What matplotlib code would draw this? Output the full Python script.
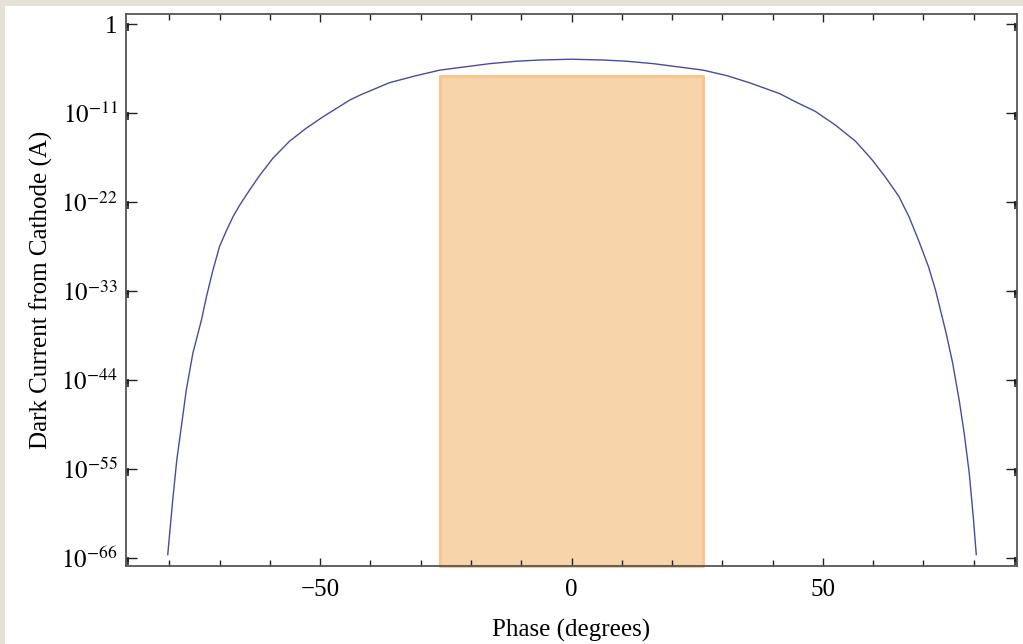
import matplotlib
matplotlib.use("Agg")
import matplotlib.pyplot as plt
from matplotlib.patches import Rectangle
from matplotlib.ticker import FixedLocator
import numpy as np

# curve: phase (deg) and log10 of dark current (A)
phase = [-80.3, -79.3, -78.5, -77.6, -76.6, -75.3, -73.6, -72.6, -71.3, -70.0,
         -68.6, -67.3, -66.0, -64.0, -62.0, -59.4, -56.1, -52.8, -49.5, -44.1,
         -42.1, -36.2, -31.0, -26.2, -16.3, -11.0, -6.4, 0.0,
         6.4, 11.0, 16.3, 26.2, 31.0, 35.4, 41.4, 44.5, 48.5, 52.5,
         56.5, 59.8, 62.4, 65.1, 67.1, 69.0, 71.0, 72.4, 74.5,
         75.8, 77.1, 78.1, 79.1, 79.9, 80.5]
log_current = [-65.6, -58.8, -53.9, -49.8, -45.2, -40.7, -36.6, -33.7, -30.4, -27.5,
               -25.5, -23.8, -22.4, -20.5, -18.7, -16.6, -14.5, -12.9, -11.5, -9.4,
               -8.8, -7.25, -6.4, -5.7, -4.9, -4.6, -4.45, -4.35,
               -4.45, -4.6, -4.9, -5.7, -6.4, -7.26, -8.6, -9.6, -10.8, -12.5,
               -14.5, -16.8, -18.9, -21.3, -23.8, -26.7, -30.0, -32.9, -38.2,
               -41.9, -46.5, -50.6, -55.5, -60.9, -65.6]
current = 10.0 ** np.array(log_current)

# shaded phase window
window_phase = (-26.1, 26.1)
window_top = 10.0 ** -6.45

y_major_exp = [0, -11, -22, -33, -44, -55, -66]
y_major = [10.0 ** e for e in y_major_exp]
y_labels = ["1" if e == 0 else r"$10^{%d}$" % e for e in y_major_exp]
x_major = [-50, 0, 50]
x_labels = ["\u221250", "0", "50"]
x_minor = [-80, -70, -60, -40, -30, -20, -10, 10, 20, 30, 40, 60, 70, 80]

plt.rcParams["mathtext.fontset"] = "stix"
plt.rcParams["font.family"] = ["Liberation Serif", "DejaVu Serif"]

fig = plt.figure(figsize=(10.23, 6.44), dpi=100, facecolor="white")
beige = "#e6e1d7"
fig.add_artist(Rectangle((0, 1 - 6 / 644), 1, 6 / 644, transform=fig.transFigure,
                         facecolor=beige, edgecolor="none"))
fig.add_artist(Rectangle((0, 0), 5 / 1023, 1, transform=fig.transFigure,
                         facecolor=beige, edgecolor="none"))

ax = fig.add_axes([126 / 1023, 1 - 566 / 644, (1017 - 126) / 1023, (566 - 14) / 644])
ax.set_yscale("log")
ylo, yhi = 10.0 ** -67.0, 10.0 ** 1.24
ax.set_xlim(-88.6, 88.6)
ax.set_ylim(ylo, yhi)

ax.add_patch(Rectangle((window_phase[0], ylo), window_phase[1] - window_phase[0],
                       window_top - ylo, facecolor="#f8d4aa", edgecolor="#f8c690",
                       linewidth=2.2, joinstyle="round", clip_on=False, zorder=1))

ax.plot(phase, current, color="#4a4aa0", linewidth=1.0, zorder=3,
        solid_joinstyle="round")

ax.yaxis.set_major_locator(FixedLocator(y_major))
ax.set_yticklabels(y_labels)
y_minor = [k * 10.0 ** (e - 1) for e in y_major_exp for k in range(2, 10)]
ax.yaxis.set_minor_locator(FixedLocator(y_minor))
ax.set_xticks(x_major)
ax.set_xticklabels(x_labels)
ax.set_xticks(x_minor, minor=True)

ax.tick_params(axis="both", which="both", direction="in", top=True, right=True,
               colors="#222222", labelcolor="black")
ax.tick_params(axis="y", which="major", length=8, width=1.0, pad=6, labelsize=18)
ax.tick_params(axis="y", which="minor", length=2.5, width=1.2)
ax.tick_params(axis="x", which="major", length=6, width=1.0, pad=9, labelsize=18)
ax.tick_params(axis="x", which="minor", length=4, width=1.0)

for s in ax.spines.values():
    s.set_color("#555555")
    s.set_linewidth(1.3)

ax.set_xlabel("Phase (degrees)", fontsize=18, labelpad=13)
ax.set_ylabel("Dark Current from Cathode (A)", fontsize=18, labelpad=6)

fig.savefig("out.png", dpi=100, facecolor="white")
